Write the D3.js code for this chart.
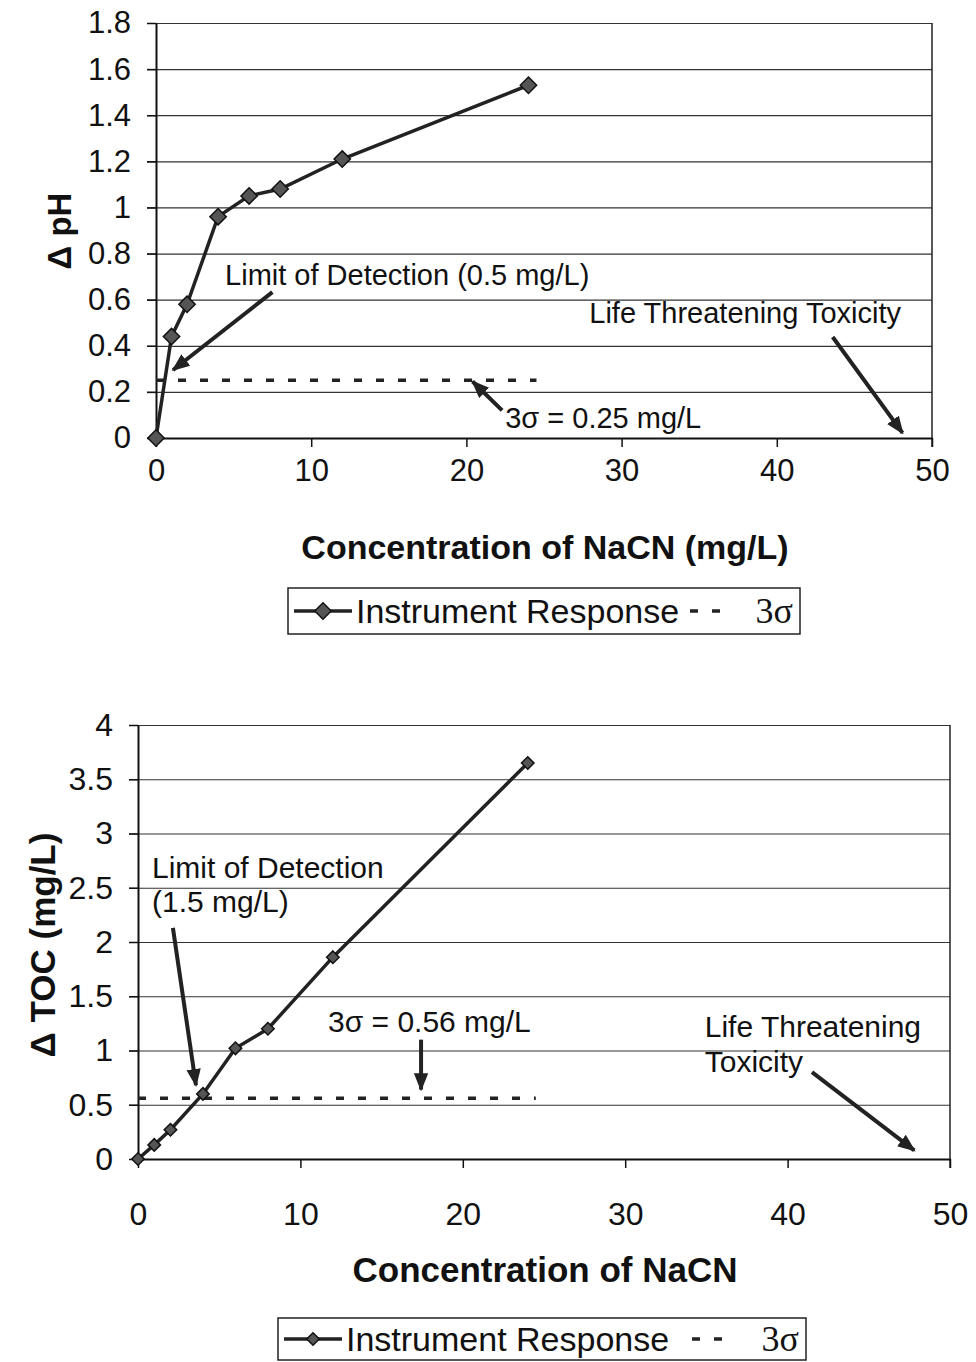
<!DOCTYPE html>
<html>
<head>
<meta charset="utf-8">
<script src="https://cdn.jsdelivr.net/npm/d3@7"></script>
<style>
  body { margin: 0; background: #fff; }
  text { font-family: "Liberation Sans", Arial, sans-serif; fill: #111; }
  .tick text { font-size: 30px; }
  .axis path { stroke: #111; stroke-width: 2; }
  .axis line { stroke: #111; stroke-width: 1.5; }
  .grid line { stroke: #333; stroke-width: 1.2; }
  .grid path { display: none; }
</style>
</head>
<body>
<div class="toxicity-plot"></div>
<script>
// DATA
const conc = [0, 1, 2, 4, 6, 8, 12, 24];                       // NaCN, mg/L
const dPH = [0, 0.44, 0.58, 0.96, 1.05, 1.08, 1.21, 1.53];     // top chart
const dTOC = [0, 0.13, 0.27, 0.60, 1.02, 1.20, 1.86, 3.65];    // bottom chart
const sigmaPH = 0.25;
const sigmaTOC = 0.56;
const sigmaRange = [0, 24];
const xTicks = [0, 10, 20, 30, 40, 50];
const phTicks = [0, 0.2, 0.4, 0.6, 0.8, 1, 1.2, 1.4, 1.6, 1.8];
const tocTicks = [0, 0.5, 1, 1.5, 2, 2.5, 3, 3.5, 4];

let svg = d3.select('.toxicity-plot').append('svg')
    .attr('width', 976)
    .attr('height', 1362);

svg.append('rect').attr('width', 976).attr('height', 1362).attr('fill', '#fff');

let defs = svg.append('defs');
defs.append('marker')
    .attr('id', 'arrow')
    .attr('viewBox', '0 0 10 10')
    .attr('refX', 9).attr('refY', 5)
    .attr('markerWidth', 4.5).attr('markerHeight', 4.5)
    .attr('orient', 'auto')
    .append('path')
    .attr('d', 'M0,1 L10,5 L0,9 Z')
    .attr('fill', '#222');

let fmt = d => String(+d.toFixed(1));
const dash = '8,14';

// draws one panel
function panel(o) {
    let x = d3.scaleLinear().domain([0, 50]).range([o.left, o.right]);
    let y = d3.scaleLinear().domain([0, o.ymax]).range([o.bottom, o.top]);
    let g = svg.append('g');

    // gridlines (start at tick mark, run to right border)
    g.append('g')
        .attr('class', 'grid')
        .attr('transform', `translate(${o.right},0)`)
        .call(d3.axisLeft(y).tickValues(o.yTicks).tickSize(o.right - o.left + 9).tickFormat(''));

    // right border
    g.append('line')
        .attr('x1', o.right).attr('x2', o.right)
        .attr('y1', o.top).attr('y2', o.bottom + 9)
        .attr('stroke', '#222').attr('stroke-width', 1.5);

    g.append('g')
        .attr('class', 'axis y-axis')
        .attr('transform', `translate(${o.left},0)`)
        .call(d3.axisLeft(y).tickValues(o.yTicks).tickSize(9).tickSizeOuter(0).tickPadding(o.yPad).tickFormat(fmt));

    g.append('g')
        .attr('class', 'axis x-axis')
        .attr('transform', `translate(0,${o.bottom})`)
        .call(d3.axisBottom(x).tickValues(xTicks).tickSize(9).tickSizeOuter(0).tickPadding(o.xPad));

    g.selectAll('.tick text').style('font-size', o.tickFont + 'px');

    // 3 sigma dashed line
    g.append('line')
        .attr('x1', x(sigmaRange[0])).attr('x2', x(sigmaRange[1]) + 8)
        .attr('y1', y(o.sigma)).attr('y2', y(o.sigma))
        .attr('stroke', '#222').attr('stroke-width', 3.5)
        .attr('stroke-dasharray', dash);

    // instrument response
    let pts = conc.map((c, i) => [c, o.vals[i]]);
    g.append('path')
        .datum(pts)
        .attr('fill', 'none')
        .attr('stroke', '#222')
        .attr('stroke-width', o.lw)
        .attr('d', d3.line().x(d => x(d[0])).y(d => y(d[1])));

    g.selectAll('.pt')
        .data(pts)
        .enter()
        .append('path')
        .attr('class', 'pt')
        .attr('transform', d => `translate(${x(d[0])},${y(d[1])})`)
        .attr('d', d3.symbol(d3.symbolDiamond2, o.ms))
        .attr('fill', '#555')
        .attr('stroke', '#111')
        .attr('stroke-width', 1.5);

    // axis titles
    g.append('text')
        .attr('x', 545).attr('y', o.xTitleY)
        .attr('text-anchor', 'middle')
        .style('font-size', o.titleFont + 'px').style('font-weight', 'bold')
        .text(o.xTitle);

    g.append('text')
        .attr('transform', `translate(${o.yTitleX},${o.yTitleMid}) rotate(-90)`)
        .attr('text-anchor', 'middle')
        .style('font-size', o.yTitleFont + 'px').style('font-weight', 'bold')
        .text(o.yTitle);

    // annotations
    o.notes.forEach(n => {
        g.append('text')
            .attr('x', x(n.x)).attr('y', y(n.y))
            .attr('text-anchor', n.anchor || 'start')
            .style('font-size', o.noteFont + 'px')
            .text(n.t);
    });
    o.arrows.forEach(a => {
        g.append('line')
            .attr('x1', x(a[0])).attr('y1', y(a[1]))
            .attr('x2', x(a[2])).attr('y2', y(a[3]))
            .attr('stroke', '#222').attr('stroke-width', 4)
            .attr('marker-end', 'url(#arrow)');
    });

    // legend
    let L = o.legend;
    let lg = svg.append('g').attr('transform', `translate(${L.x},${L.y})`);
    lg.append('rect')
        .attr('width', L.w).attr('height', L.h)
        .attr('fill', '#fff').attr('stroke', '#222').attr('stroke-width', 1.5);
    lg.append('line')
        .attr('x1', 6).attr('x2', 64).attr('y1', L.h / 2).attr('y2', L.h / 2)
        .attr('stroke', '#222').attr('stroke-width', o.lw);
    lg.append('path')
        .attr('transform', `translate(35,${L.h / 2})`)
        .attr('d', d3.symbol(d3.symbolDiamond2, o.ms))
        .attr('fill', '#555').attr('stroke', '#111').attr('stroke-width', 1.5);
    lg.append('text')
        .attr('x', 68).attr('y', L.h / 2 + 12)
        .style('font-size', L.font + 'px')
        .text('Instrument Response');
    lg.append('line')
        .attr('x1', L.dashX).attr('x2', L.dashX + 30).attr('y1', L.h / 2).attr('y2', L.h / 2)
        .attr('stroke', '#222').attr('stroke-width', 3.5)
        .attr('stroke-dasharray', dash);
    lg.append('text')
        .attr('x', L.w - 7).attr('y', L.h / 2 + 12)
        .attr('text-anchor', 'end')
        .style('font-family', '"Liberation Serif", "Times New Roman", serif')
        .style('font-size', (L.font + 2) + 'px')
        .text('3σ');
}

panel({
    left: 156, right: 932, top: 23, bottom: 438, ymax: 1.8,
    yTicks: phTicks, vals: dPH, sigma: sigmaPH,
    yPad: 16, xPad: 12, tickFont: 31, titleFont: 34, yTitleFont: 33, noteFont: 29,
    lw: 3.5, ms: 170,
    xTitle: 'Concentration of NaCN (mg/L)', xTitleY: 559,
    yTitle: 'Δ pH', yTitleX: 71, yTitleMid: 231,
    notes: [
        {x: 4.45, y: 0.663, t: 'Limit of Detection (0.5 mg/L)'},
        {x: 48.0, y: 0.5, t: 'Life Threatening Toxicity', anchor: 'end'},
        {x: 22.5, y: 0.045, t: '3σ = 0.25 mg/L'}
    ],
    arrows: [
        [7.5, 0.633, 1.1, 0.295],
        [43.6, 0.438, 48.1, 0.022],
        [22.3, 0.12, 20.4, 0.245]
    ],
    legend: {x: 288, y: 588, w: 512, h: 46, font: 34, dashX: 402}
});

panel({
    left: 138, right: 950, top: 725, bottom: 1159, ymax: 4,
    yTicks: tocTicks, vals: dTOC, sigma: sigmaTOC,
    yPad: 16, xPad: 34, tickFont: 32, titleFont: 35, yTitleFont: 35, noteFont: 30,
    lw: 3.5, ms: 100,
    xTitle: 'Concentration of NaCN', xTitleY: 1282,
    yTitle: 'Δ TOC (mg/L)', yTitleX: 55, yTitleMid: 945,
    notes: [
        {x: 0.86, y: 2.59, t: 'Limit of Detection'},
        {x: 0.86, y: 2.28, t: '(1.5 mg/L)'},
        {x: 11.7, y: 1.17, t: '3σ = 0.56 mg/L'},
        {x: 34.9, y: 1.12, t: 'Life Threatening'},
        {x: 34.9, y: 0.80, t: 'Toxicity'}
    ],
    arrows: [
        [2.15, 2.13, 3.57, 0.68],
        [17.43, 1.10, 17.43, 0.64],
        [41.5, 0.80, 47.8, 0.08]
    ],
    legend: {x: 278, y: 1318, w: 528, h: 42, font: 34, dashX: 414}
});
</script>
</body>
</html>
